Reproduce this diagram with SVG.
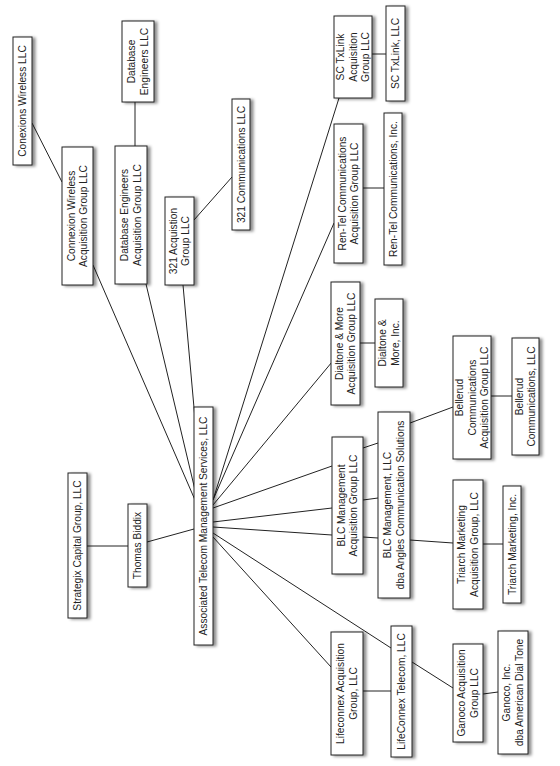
<svg xmlns="http://www.w3.org/2000/svg" width="560" height="766" viewBox="0 0 560 766">
<defs>
<filter id="sh" x="-30%" y="-10%" width="170%" height="125%">
<feGaussianBlur in="SourceAlpha" stdDeviation="1.4"/>
<feOffset dx="3" dy="1" result="b"/>
<feFlood flood-color="#000" flood-opacity="0.45"/>
<feComposite in2="b" operator="in"/>
<feMerge><feMergeNode/><feMergeNode in="SourceGraphic"/></feMerge>
</filter>
</defs>
<style>
rect{fill:#fff;stroke:#222;stroke-width:1;filter:url(#sh)}
text{font-family:"Liberation Sans",Arial,sans-serif;font-size:10.2px;fill:#222;text-anchor:middle}
line{stroke:#222;stroke-width:1}
</style>
<rect x="0" y="0" width="560" height="766" style="fill:#fff;stroke:none;filter:none"/>
<g id="connectors">
<line x1="32" y1="123" x2="62" y2="182"/>
<line x1="135" y1="102" x2="135" y2="146"/>
<line x1="194" y1="220" x2="232" y2="177"/>
<line x1="372" y1="54" x2="386" y2="54"/>
<line x1="363" y1="188" x2="384" y2="188"/>
<line x1="360" y1="343" x2="375" y2="343"/>
<line x1="491" y1="396" x2="512" y2="396"/>
<line x1="410" y1="423" x2="453" y2="407"/>
<line x1="410" y1="540" x2="453" y2="543"/>
<line x1="483" y1="544" x2="503" y2="544"/>
<line x1="363" y1="691" x2="391" y2="691"/>
<line x1="412" y1="662" x2="453" y2="688"/>
<line x1="483" y1="694" x2="498" y2="692"/>
<line x1="87" y1="546" x2="128" y2="546"/>
<line x1="147" y1="542" x2="194" y2="529"/>
<line x1="195" y1="500" x2="93" y2="265"/>
<line x1="195" y1="490" x2="146" y2="284"/>
<line x1="196" y1="430" x2="183" y2="285"/>
<line x1="213" y1="500" x2="339" y2="98"/>
<line x1="213" y1="500" x2="334" y2="223"/>
<line x1="213" y1="505" x2="332" y2="362"/>
<line x1="213" y1="508" x2="332" y2="466"/>
<line x1="213" y1="522" x2="332" y2="508"/>
<line x1="213" y1="527" x2="332" y2="535"/>
<line x1="363" y1="448" x2="378" y2="443"/>
<line x1="363" y1="500" x2="378" y2="498"/>
<line x1="363" y1="537" x2="378" y2="538"/>
<line x1="213" y1="537" x2="331" y2="667"/>
<line x1="213" y1="533" x2="391" y2="648"/>
</g>
<g id="conexions-wireless"><rect x="13" y="37" width="19" height="128"/><text transform="translate(22.5,101) rotate(-90)"><tspan x="0" y="3.6">Conexions Wireless LLC</tspan></text></g>
<g id="database-engineers"><rect x="122" y="21" width="32" height="81"/><text transform="translate(138,61.5) rotate(-90)"><tspan x="0" y="-2.65">Database</tspan><tspan x="0" y="9.85">Engineers LLC</tspan></text></g>
<g id="comm-321"><rect x="232" y="99" width="18" height="131"/><text transform="translate(241,164.5) rotate(-90)"><tspan x="0" y="3.6">321 Communications LLC</tspan></text></g>
<g id="connexion-acq"><rect x="62" y="147" width="31" height="138"/><text transform="translate(77.5,216) rotate(-90)"><tspan x="0" y="-2.65">Connexion Wireless</tspan><tspan x="0" y="9.85">Acquisition Group LLC</tspan></text></g>
<g id="database-acq"><rect x="115" y="146" width="32" height="138"/><text transform="translate(131,215) rotate(-90)"><tspan x="0" y="-2.65">Database Engineers</tspan><tspan x="0" y="9.85">Acquisition Group LLC</tspan></text></g>
<g id="acq-321"><rect x="165" y="197" width="29" height="88"/><text transform="translate(179.5,241) rotate(-90)"><tspan x="0" y="-2.65">321 Acquistion</tspan><tspan x="0" y="9.85">Group LLC</tspan></text></g>
<g id="sctxlink-acq"><rect x="334" y="16" width="38" height="82"/><text transform="translate(353,57) rotate(-90)"><tspan x="0" y="-8.9">SC TxLink</tspan><tspan x="0" y="3.6">Acquisition</tspan><tspan x="0" y="16.1">Group LLC</tspan></text></g>
<g id="sctxlink"><rect x="386" y="6" width="19" height="95"/><text transform="translate(395.5,53.5) rotate(-90)"><tspan x="0" y="3.6">SC TxLink, LLC</tspan></text></g>
<g id="rentel-acq"><rect x="334" y="124" width="29" height="139"/><text transform="translate(348.5,193.5) rotate(-90)"><tspan x="0" y="-2.65">Ren-Tel Communications</tspan><tspan x="0" y="9.85">Acquisition Group LLC</tspan></text></g>
<g id="rentel"><rect x="384" y="113" width="18" height="152"/><text transform="translate(393,189) rotate(-90)"><tspan x="0" y="3.6">Ren-Tel Communications, Inc.</tspan></text></g>
<g id="dialtone-acq"><rect x="331" y="282" width="29" height="123"/><text transform="translate(345.5,343.5) rotate(-90)"><tspan x="0" y="-2.65">Dialtone &amp; More</tspan><tspan x="0" y="9.85">Acquisition Group LLC</tspan></text></g>
<g id="dialtone"><rect x="375" y="299" width="28" height="88"/><text transform="translate(389,343) rotate(-90)"><tspan x="0" y="-2.65">Dialtone &amp;</tspan><tspan x="0" y="9.85">More, Inc.</tspan></text></g>
<g id="bellerud-acq"><rect x="453" y="336" width="38" height="123"/><text transform="translate(472,397.5) rotate(-90)"><tspan x="0" y="-8.9">Bellerud</tspan><tspan x="0" y="3.6">Communications</tspan><tspan x="0" y="16.1">Acquisition Group LLC</tspan></text></g>
<g id="bellerud"><rect x="512" y="338" width="27" height="117"/><text transform="translate(525.5,396.5) rotate(-90)"><tspan x="0" y="-2.65">Bellerud</tspan><tspan x="0" y="9.85">Communications, LLC</tspan></text></g>
<g id="blc-acq"><rect x="332" y="437" width="31" height="137"/><text transform="translate(347.5,505.5) rotate(-90)"><tspan x="0" y="-2.65">BLC Management</tspan><tspan x="0" y="9.85">Acquisition Group LLC</tspan></text></g>
<g id="blc"><rect x="378" y="412" width="32" height="186"/><text transform="translate(394,505) rotate(-90)"><tspan x="0" y="-2.65">BLC Management, LLC</tspan><tspan x="0" y="9.85">dba Angles Communication Solutions</tspan></text></g>
<g id="triarch-acq"><rect x="453" y="480" width="30" height="129"/><text transform="translate(468,544.5) rotate(-90)"><tspan x="0" y="-2.65">Triarch Marketing</tspan><tspan x="0" y="9.85">Acquisition Group, LLC</tspan></text></g>
<g id="triarch"><rect x="503" y="486" width="18" height="117"/><text transform="translate(512,544.5) rotate(-90)"><tspan x="0" y="3.6">Triarch Marketing, Inc.</tspan></text></g>
<g id="lifeconnex-acq"><rect x="331" y="632" width="32" height="123"/><text transform="translate(347,693.5) rotate(-90)"><tspan x="0" y="-2.65">Lifeconnex Acquisition</tspan><tspan x="0" y="9.85">Group, LLC</tspan></text></g>
<g id="lifeconnex"><rect x="391" y="626" width="21" height="131"/><text transform="translate(401.5,691.5) rotate(-90)"><tspan x="0" y="3.6">LifeConnex Telecom, LLC</tspan></text></g>
<g id="ganoco-acq"><rect x="453" y="644" width="30" height="98"/><text transform="translate(468,693) rotate(-90)"><tspan x="0" y="-2.65">Ganoco  Acquisition</tspan><tspan x="0" y="9.85">Group LLC</tspan></text></g>
<g id="ganoco"><rect x="498" y="631" width="30" height="123"/><text transform="translate(513,692.5) rotate(-90)"><tspan x="0" y="-2.65">Ganoco, Inc.</tspan><tspan x="0" y="9.85">dba American Dial Tone</tspan></text></g>
<g id="strategix"><rect x="68" y="473" width="19" height="145"/><text transform="translate(77.5,545.5) rotate(-90)"><tspan x="0" y="3.6">Strategix Capital Group, LLC</tspan></text></g>
<g id="thomas"><rect x="128" y="504" width="19" height="83"/><text transform="translate(137.5,545.5) rotate(-90)"><tspan x="0" y="3.6">Thomas Biddix</tspan></text></g>
<g id="atms"><rect x="194" y="407" width="19" height="238"/><text transform="translate(203.5,526) rotate(-90)"><tspan x="0" y="3.6">Associated Telecom Management Services, LLC</tspan></text></g>
</svg>
